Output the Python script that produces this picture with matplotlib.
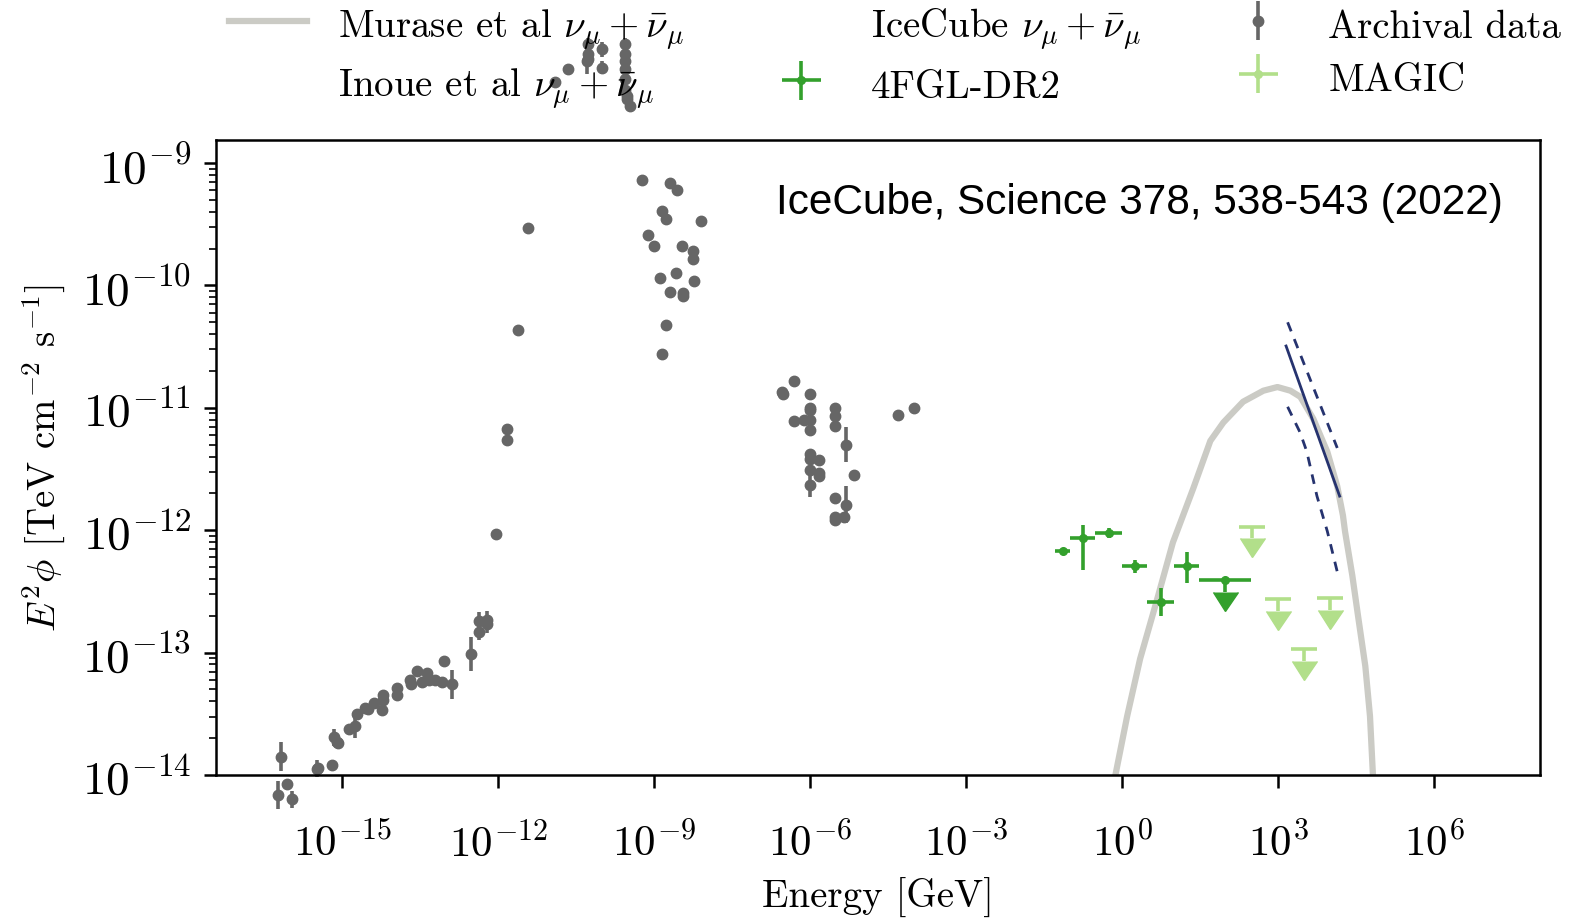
import numpy as np
import matplotlib.pyplot as plt
from matplotlib.lines import Line2D
from matplotlib.container import ErrorbarContainer
from matplotlib.ticker import NullLocator

plt.rcParams.update({
    "font.family": "serif",
    "font.serif": ["cmr10"],
    "mathtext.fontset": "cm",
    "axes.formatter.use_mathtext": True,
    "font.size": 28,
    "axes.linewidth": 1.8,
})

# archival multiwavelength points: log10 E [GeV], log10 E^2 phi, error [dex]
arch_logE = [-16.18, -16.23, -16.07, -15.97, -15.49, -15.46, -15.20, -15.16, -15.11, -15.08,
             -14.88, -14.76, -14.71, -14.56, -14.50, -14.40, -14.22, -14.22, -14.23, -13.95,
             -13.95, -13.70, -13.68, -13.57, -13.47, -13.38, -13.33, -13.22, -13.09, -13.04,
             -12.90, -12.53, -12.38, -12.38, -12.21, -12.21, -12.04, -11.83, -11.83, -11.63,
             -11.44,
             -10.91, -10.67, -10.30, -10.27, -10.27, -10.27, -10.00, -10.00, -9.56, -9.56,
             -9.56, -9.56, -9.56, -9.56, -9.53, -9.53, -9.47,
             -9.24, -8.70, -8.57, -8.86, -8.78, -8.10, -9.13, -9.00, -8.46, -8.25,
             -8.25, -8.89, -8.58, -8.23, -8.70, -8.45, -8.45, -8.78, -8.85,
             -6.31, -6.53, -6.55, -6.01, -6.01, -6.01, -6.31, -6.13, -6.01, -6.01,
             -5.53, -5.53, -5.53, -5.31, -6.01, -6.01, -5.83, -6.01, -5.83, -5.83,
             -6.01, -5.16, -5.53, -5.31, -5.53, -5.53, -5.35, -4.31, -4.01]
arch_logF = [-13.85, -14.16, -14.07, -14.20, -13.95, -13.94, -13.92, -13.69, -13.73, -13.74,
             -13.62, -13.60, -13.50, -13.45, -13.46, -13.41, -13.35, -13.39, -13.47, -13.29,
             -13.35, -13.22, -13.26, -13.15, -13.24, -13.17, -13.22, -13.22, -13.24, -13.07,
             -13.26, -13.01, -12.83, -12.74, -12.73, -12.77, -12.03, -11.17, -11.26, -10.36,
             -9.53,
             -8.34, -8.23, -8.17, -8.11, -8.15, -8.03, -8.07, -8.22, -8.03, -8.11,
             -8.17, -8.23, -8.31, -8.40, -8.45, -8.48, -8.53,
             -9.14, -9.16, -9.22, -9.39, -9.46, -9.47, -9.59, -9.68, -9.68, -9.72,
             -9.78, -9.94, -9.90, -9.96, -10.05, -10.06, -10.09, -10.32, -10.56,
             -10.78, -10.89, -10.87, -10.89, -11.00, -11.02, -11.11, -11.10, -11.10, -11.18,
             -11.00, -11.07, -11.15, -11.30, -11.38, -11.42, -11.43, -11.51, -11.53, -11.56,
             -11.63, -11.55, -11.74, -11.79, -11.89, -11.92, -11.89, -11.06, -11.00]
arch_dex = [0.12, 0.115, 0.03, 0.07, 0.07, 0, 0, 0.07, 0, 0,
            0, 0.10, 0, 0, 0, 0, 0, 0, 0, 0,
            0, 0, 0, 0, 0, 0, 0, 0, 0, 0,
            0.12, 0.14, 0.07, 0.07, 0.07, 0.07, 0, 0, 0, 0,
            0,
            0, 0, 0.10, 0.08, 0, 0.05, 0.06, 0.05, 0.05, 0,
            0, 0, 0.05, 0, 0, 0, 0,
            0, 0, 0, 0, 0, 0, 0.03, 0, 0, 0,
            0, 0, 0, 0, 0, 0, 0, 0, 0,
            0, 0, 0, 0, 0, 0, 0, 0, 0, 0,
            0, 0, 0, 0.14, 0, 0, 0, 0, 0, 0,
            0.10, 0, 0, 0.15, 0, 0, 0, 0, 0]

# Fermi-LAT 4FGL-DR2 band fluxes [GeV], last band is an upper limit
fgl_lo = [0.05, 0.1, 0.3, 1.0, 3.0, 10.0]
fgl_hi = [0.1, 0.3, 1.0, 3.0, 10.0, 30.0]
fgl_flux = [6.8e-13, 8.7e-13, 9.5e-13, 5.1e-13, 2.6e-13, 5.1e-13]
fgl_flux_up = [7.1e-13, 1.10e-12, 1.05e-12, 5.75e-13, 3.4e-13, 6.6e-13]
fgl_flux_dn = [6.4e-13, 4.7e-13, 8.7e-13, 4.5e-13, 2.0e-13, 3.7e-13]
fgl_ul_lo, fgl_ul_hi, fgl_ul = [30.0], [300.0], [3.9e-13]

# MAGIC upper limits
magic_E = [310.0, 980.0, 3100.0, 9800.0]
magic_ul = [1.07e-12, 2.75e-13, 1.07e-13, 2.8e-13]

# IceCube best fit and 1 sigma band
ic_E = [1.4e3, 1.5e4]
ic_flux = [3.2e-11, 1.9e-12]
ic_up_E = [1.5e3, 1.35e4]
ic_up = [5.0e-11, 4.7e-12]
ic_dn_E = [1.5e3, 2.6e3, 3.5e3, 5.5e3, 8.7e3, 1.4e4]
ic_dn = [1.02e-11, 6.3e-12, 4.4e-12, 1.9e-12, 9.8e-13, 4.3e-13]

# Murase et al. model
mur_logE = [-0.14, 0.09, 0.34, 0.67, 0.97, 1.36, 1.69, 1.94, 2.32, 2.71, 2.98, 3.23,
            3.42, 3.67, 3.94, 4.13, 4.24, 4.28, 4.42, 4.53, 4.67, 4.76, 4.82]
mur_logF = [-14.01, -13.52, -13.05, -12.56, -12.10, -11.66, -11.27, -11.12, -10.95, -10.86,
            -10.83, -10.86, -10.91, -11.09, -11.36, -11.64, -11.88, -12.01, -12.37, -12.70,
            -13.11, -13.52, -14.03]

grey = "#666666"
dgreen = "#33a02c"
lgreen = "#b2df8a"
navy = "#26336f"

fig = plt.figure(figsize=(15.71, 9.2), dpi=100)
ax = fig.add_axes([0.1375, 0.1565, 0.8428, 0.6902])
ax.set_xscale("log")
ax.set_yscale("log")

# model curve
mur_line, = ax.plot(10 ** np.array(mur_logE), 10 ** np.array(mur_logF), color="#cbcbc5",
                    lw=4.5, label=r"Murase et al $\nu_\mu + \bar{\nu}_\mu$")

# IceCube
ax.plot(ic_E, ic_flux, color=navy, lw=2)
ax.plot(ic_up_E, ic_up, color=navy, lw=2, ls=(0, (3.5, 3)))
ax.plot(ic_dn_E, ic_dn, color=navy, lw=2, ls=(0, (3.5, 3)))

# archival
aE = 10 ** np.array(arch_logE)
aF = 10 ** np.array(arch_logF)
ad = np.array(arch_dex)
arch = ax.errorbar(aE, aF, yerr=[aF - aF * 10 ** -ad, aF * 10 ** ad - aF], fmt="o",
                   color=grey, ms=7.5, elinewidth=2.6, capsize=0, label="Archival data")
for art in arch.get_children():
    art.set_clip_on(False)

# 4FGL
lo, hi = np.array(fgl_lo), np.array(fgl_hi)
fE = np.sqrt(lo * hi)
fF = np.array(fgl_flux)
fgl = ax.errorbar(fE, fF, xerr=[fE - lo, hi - fE],
                  yerr=[fF - np.array(fgl_flux_dn), np.array(fgl_flux_up) - fF],
                  fmt="o", color=dgreen, ms=5.5, elinewidth=2.6, capsize=0, label="4FGL-DR2")
ulo, uhi = np.array(fgl_ul_lo), np.array(fgl_ul_hi)
uE = np.sqrt(ulo * uhi)
uF = np.array(fgl_ul)
ful = ax.errorbar(uE, uF, xerr=[uE - ulo, uhi - uE], yerr=0.2 * uF, uplims=True,
                  fmt="o", color=dgreen, ms=5.5, elinewidth=2.6, capsize=0)
for cl in ful[1]:
    cl.set_markersize(18)

# MAGIC
mE = np.array(magic_E)
mF = np.array(magic_ul)
mag = ax.errorbar(mE, mF, xerr=[mE - mE / 10 ** 0.25, mE * 10 ** 0.25 - mE], yerr=0.2 * mF,
                  uplims=True, fmt="none", ecolor=lgreen, elinewidth=2.6, capsize=0)
for cl in mag[1]:
    cl.set_markersize(18)
    cl.set_color(lgreen)

ax.set_xlim(10 ** -17.43, 10 ** 8.03)
ax.set_ylim(1e-14, 10 ** -8.812)

ax.set_xticks([1e-15, 1e-12, 1e-9, 1e-6, 1e-3, 1e0, 1e3, 1e6])
ax.xaxis.set_minor_locator(NullLocator())
ax.tick_params(axis="x", which="major", direction="out", length=9, width=1.8, pad=24,
               labelsize=31)
ax.tick_params(axis="y", which="major", direction="out", length=9, width=1.8, pad=9,
               labelsize=34)
ax.tick_params(axis="y", which="minor", direction="out", length=5, width=1.2)

ax.set_xlabel("Energy [GeV]", labelpad=9)
ax.set_ylabel(r"$E^2\phi$ [TeV cm$^{-2}$ s$^{-1}$]", labelpad=10)

ax.text(0.972, 0.902, "IceCube, Science 378, 538-543 (2022)", transform=ax.transAxes,
        ha="right", va="center", family="Liberation Sans", fontsize=30.5)

# legend
blank = Line2D([], [], linestyle="none")
magic_handle = ErrorbarContainer(
    (Line2D([], [], marker="o", ms=5.5, color=lgreen, linestyle="none"), (), mag[2]),
    has_xerr=True, has_yerr=True)
fgl_handle = ErrorbarContainer((fgl[0], (), fgl[2]), has_xerr=True, has_yerr=True)
arch_handle = ErrorbarContainer((arch[0], (), arch[2]), has_xerr=False, has_yerr=True)
handles = [mur_line, blank, blank, fgl_handle, arch_handle, magic_handle]
labels = [r"Murase et al $\nu_\mu + \bar{\nu}_\mu$", r"Inoue et al $\nu_\mu + \bar{\nu}_\mu$",
          r"IceCube $\nu_\mu + \bar{\nu}_\mu$", "4FGL-DR2", "Archival data", "MAGIC"]
ax.legend(handles, labels, ncol=3, loc="lower center", bbox_to_anchor=(0.513, 0.99),
          frameon=False, fontsize=28, handleheight=1.2, labelspacing=0.3)

fig.savefig("out.png", dpi=100)
